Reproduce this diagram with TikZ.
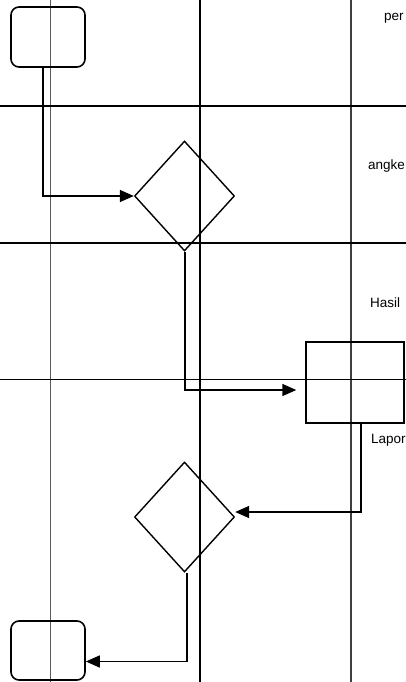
\documentclass[tikz,border=0pt]{standalone}
\usepackage{fontspec}
\setmainfont{Liberation Sans}
\usetikzlibrary{shapes.geometric, positioning, arrows.meta}
\definecolor{LaneGray}{RGB}{90,90,90}

\begin{document}
\begin{tikzpicture}[x=1pt, y=-1pt,
            term/.style={rectangle, rounded corners=8pt, draw=black, line width=1.6pt,
                         minimum width=74pt, minimum height=60pt, inner sep=0pt},
            dec/.style={diamond, draw=black, line width=1.4pt,
                        minimum width=100pt, minimum height=110pt, inner sep=0pt},
            proc/.style={rectangle, draw=black, line width=1.4pt,
                         minimum width=98pt, minimum height=81pt, inner sep=0pt},
            lbl/.style={anchor=base west, font=\fontsize{13.5}{16}\selectfont, inner sep=0pt},
            arr/.style={-{Triangle[length=14pt, width=12pt]}, line width=1.6pt}
          ]
          \useasboundingbox (0,0) rectangle (406,682);
          \clip (0,0) rectangle (406,682);

          \draw[line width=0.8pt, LaneGray] (50,0) -- (50,682);
          \draw[line width=1.6pt] (200,0) -- (200,682);
          \draw[line width=1.3pt, LaneGray!70!black] (351,0) -- (351,682);
          \draw[line width=2pt] (0,106) -- (406,106);
          \draw[line width=2pt] (0,243) -- (406,243);
          \draw[line width=1pt] (0,379) -- (406,379);

          \node[term] (start) at (48, 37)    {};
          \node[dec]  (dec1)  at (184.5, 196) {};
          \node[proc] (prc)   at (355, 382.5) {};
          \node[dec]  (dec2)  at (184.5, 517) {};
          \node[term, minimum height=59pt] (finish) at (48, 650.5) {};

          \node[lbl] (per)   at (384, 21)  {per};
          \node[lbl] (angke) at (368, 169) {angke};
          \node[lbl] (hasil) at (370, 307) {Hasil};
          \node[lbl] (lapor) at (371, 443) {Lapor};

          \coordinate (tip1) at ([xshift=-9pt, yshift=-7.5pt]prc.west);

          \draw[arr] ([xshift=-5pt]start.south) |- (dec1.west);
          \draw[arr] ([xshift=0.5pt]dec1.south) |- (tip1);
          \draw[arr] ([xshift=6pt]prc.south) |- ([yshift=5pt]dec2.east);
          \draw[arr] ([xshift=2.5pt]dec2.south) |- ([yshift=-11pt]finish.east);
        \end{tikzpicture}
\end{document}
